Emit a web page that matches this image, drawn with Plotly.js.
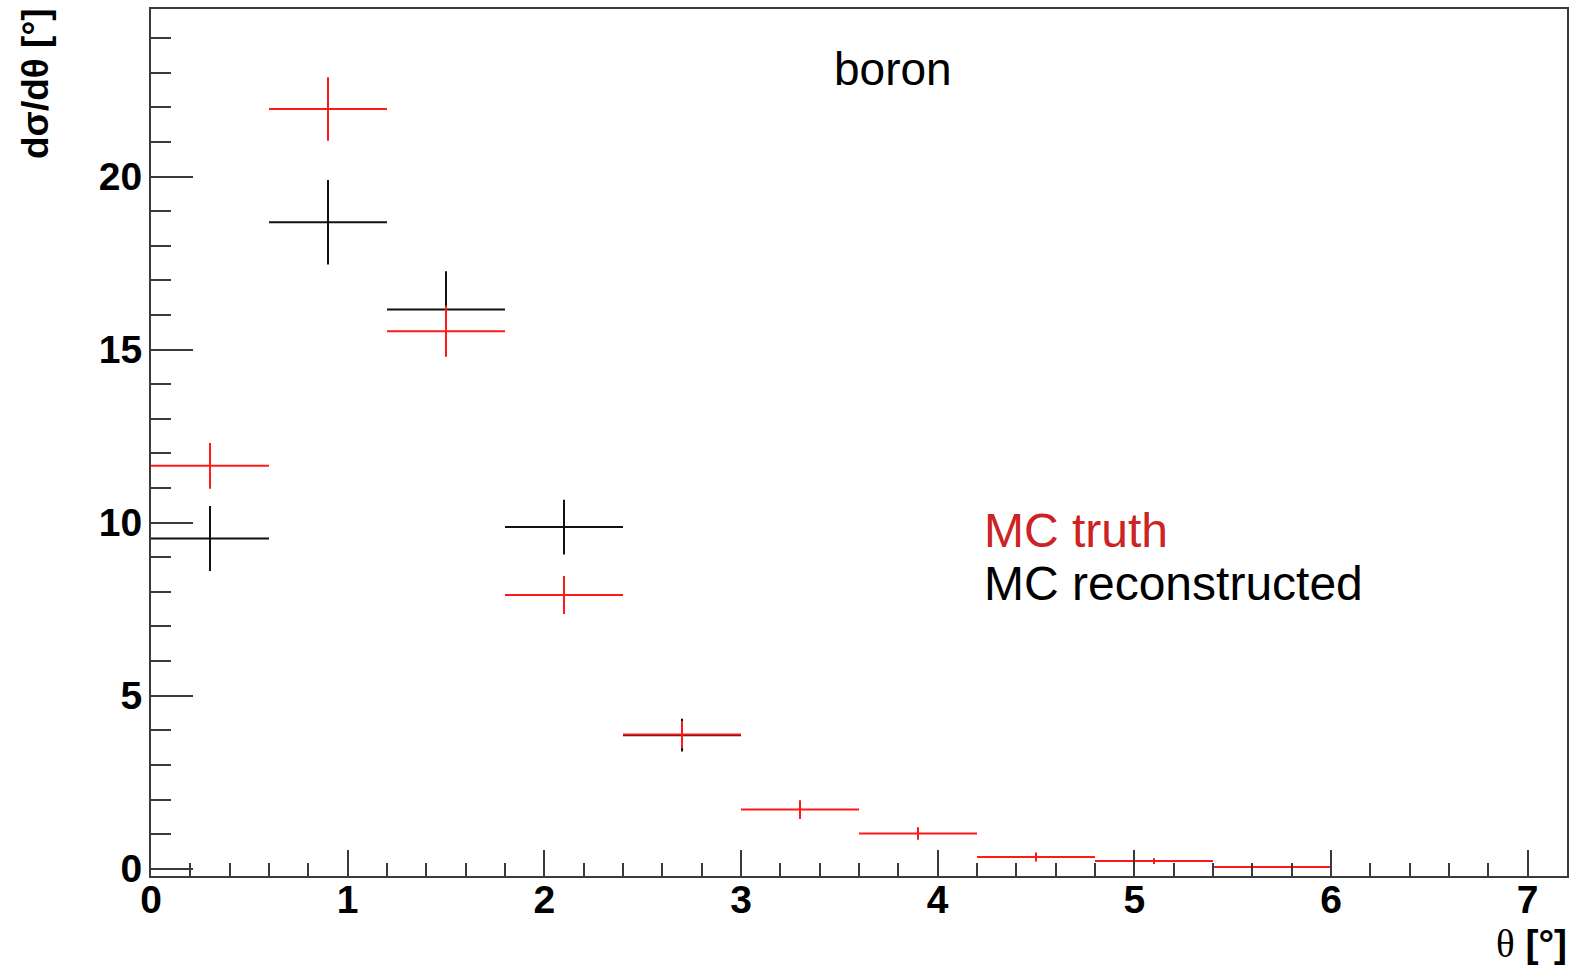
<!DOCTYPE html>
<html>
<head>
<meta charset="utf-8">
<script src="https://cdn.plot.ly/plotly-3.0.1.min.js"></script>
<style>
html,body{margin:0;padding:0;background:#fff;}
#chart{width:1580px;height:966px;}
</style>
</head>
<body>
<div id="chart"></div>
<script>
// bin centres (bin width 0.6 deg)
const binCenters = [0.3, 0.9, 1.5, 2.1, 2.7, 3.3, 3.9, 4.5, 5.1, 5.7];
const binHalfWidth = [0.3, 0.3, 0.3, 0.3, 0.3, 0.3, 0.3, 0.3, 0.3, 0.3];

// MC truth (red)
const truthValues = [11.64, 21.95, 15.53, 7.91, 3.88, 1.71, 1.02, 0.34, 0.22, 0.05];
const truthErrors = [0.66, 0.92, 0.74, 0.55, 0.39, 0.27, 0.18, 0.13, 0.08, 0.02];

// MC reconstructed (black)
const recoCenters = [0.3, 0.9, 1.5, 2.1, 2.7];
const recoValues = [9.54, 18.68, 16.16, 9.87, 3.86];
const recoErrors = [0.94, 1.22, 1.10, 0.79, 0.47];

const xTickVals = [0, 1, 2, 3, 4, 5, 6, 7];
const yTickVals = [0, 5, 10, 15, 20];

const axisColor = '#3a3a3a';
const tickFont = {family: 'Liberation Sans, Arial, sans-serif', size: 39, color: '#000', weight: 'bold'};

const recoTrace = {
  type: 'scatter', mode: 'markers',
  x: recoCenters, y: recoValues,
  marker: {size: 1, color: '#111', opacity: 0},
  error_x: {type: 'data', array: binHalfWidth.slice(0, recoCenters.length), symmetric: true, width: 0, thickness: 2, color: '#111'},
  error_y: {type: 'data', array: recoErrors, symmetric: true, width: 0, thickness: 2, color: '#111'},
  showlegend: false, hoverinfo: 'skip'
};
const truthTrace = {
  type: 'scatter', mode: 'markers',
  x: binCenters, y: truthValues,
  marker: {size: 1, color: '#ff0000', opacity: 0},
  error_x: {type: 'data', array: binHalfWidth, symmetric: true, width: 0, thickness: 2, color: '#ff1a1a'},
  error_y: {type: 'data', array: truthErrors, symmetric: true, width: 0, thickness: 2, color: '#ff1a1a'},
  showlegend: false, hoverinfo: 'skip'
};

const layout = {
  width: 1580, height: 966,
  paper_bgcolor: '#fff', plot_bgcolor: '#fff',
  margin: {l: 151, r: 13, t: 9, b: 90, pad: 0},
  showlegend: false,
  xaxis: {
    range: [0, 7.2], showgrid: false, zeroline: false,
    showline: true, mirror: true, linecolor: axisColor, linewidth: 2,
    tickmode: 'array', tickvals: xTickVals, ticktext: xTickVals.map(String),
    ticks: 'inside', ticklen: 26, tickwidth: 2, tickcolor: axisColor,
    minor: {dtick: 0.2, ticks: 'inside', ticklen: 13, tickwidth: 2, tickcolor: axisColor, showgrid: false},
    tickfont: tickFont, ticklabelstandoff: -12
  },
  yaxis: {
    range: [-0.21, 24.84], showgrid: false, zeroline: false,
    showline: true, mirror: true, linecolor: axisColor, linewidth: 2,
    tickmode: 'array', tickvals: yTickVals, ticktext: yTickVals.map(String),
    ticks: 'inside', ticklen: 42, tickwidth: 2, tickcolor: axisColor,
    minor: {dtick: 1, ticks: 'inside', ticklen: 20, tickwidth: 2, tickcolor: axisColor, showgrid: false},
    tickfont: tickFont, ticklabelstandoff: -1
  },
  annotations: [
    {xref: 'paper', yref: 'paper', x: -0.0816, y: 0.914, xanchor: 'center', yanchor: 'middle',
     text: 'dσ/dθ [°]', textangle: -90, showarrow: false,
     font: {family: 'Liberation Sans, Arial, sans-serif', size: 37, color: '#000', weight: 'bold'}},
    {xref: 'paper', yref: 'paper', x: 0.9746, y: -0.0782, xanchor: 'center', yanchor: 'middle',
     text: '<span style="font-family:Liberation Serif;font-weight:normal">θ</span> [°]', showarrow: false,
     font: {family: 'Liberation Sans, Arial, sans-serif', size: 39, color: '#000', weight: 'bold'}},
    {xref: 'paper', yref: 'paper', x: 0.524, y: 0.931, xanchor: 'center', yanchor: 'middle',
     text: 'boron', showarrow: false,
     font: {family: 'Liberation Sans, Arial, sans-serif', size: 46, color: '#000'}},
    {xref: 'paper', yref: 'paper', x: 0.587, y: 0.398, xanchor: 'left', yanchor: 'middle',
     text: 'MC truth', showarrow: false,
     font: {family: 'Liberation Sans, Arial, sans-serif', size: 48, color: '#cc2424'}},
    {xref: 'paper', yref: 'paper', x: 0.587, y: 0.337, xanchor: 'left', yanchor: 'middle',
     text: 'MC reconstructed', showarrow: false,
     font: {family: 'Liberation Sans, Arial, sans-serif', size: 48, color: '#000'}}
  ]
};

Plotly.newPlot('chart', [recoTrace, truthTrace], layout, {displayModeBar: false, staticPlot: true});
</script>
</body>
</html>
